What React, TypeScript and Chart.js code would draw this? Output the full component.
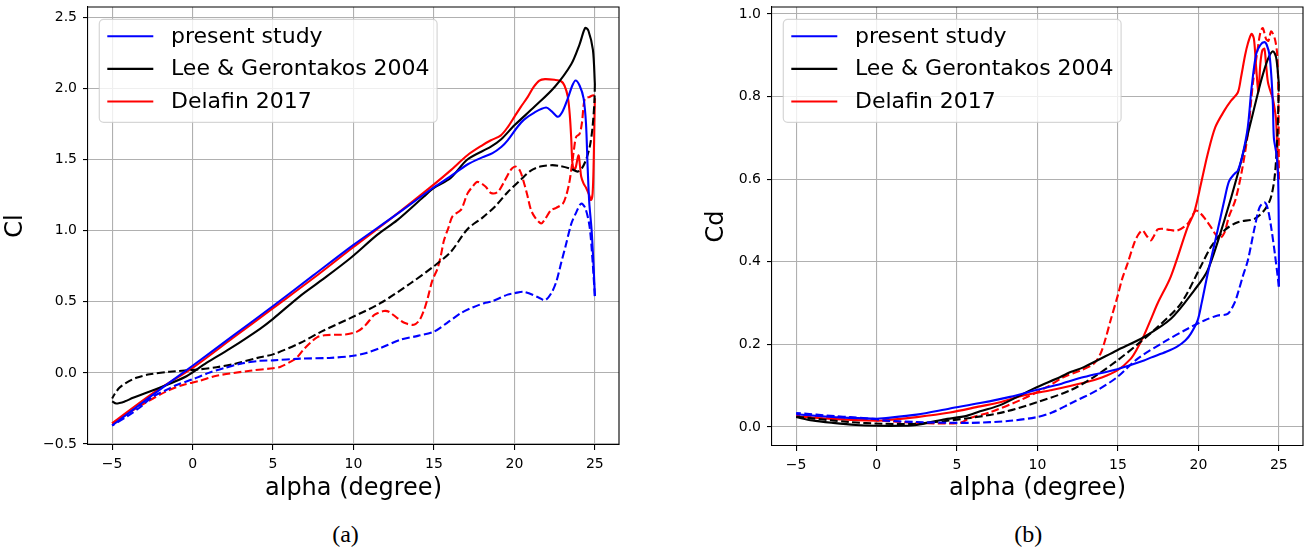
import React, { useEffect, useRef } from 'react';
import { Chart, registerables } from 'chart.js';

Chart.register(...registerables);

// ---------- tick values ----------
const alphaTicks = [-5, 0, 5, 10, 15, 20, 25];
const clTicks = [-0.5, 0, 0.5, 1.0, 1.5, 2.0, 2.5];
const cdTicks = [0, 0.2, 0.4, 0.6, 0.8, 1.0];

const seriesLabels = ['present study', 'Lee & Gerontakos 2004', 'Delafin 2017'];
const seriesColors = ['#0000ff', '#000000', '#ff0000'];

// ---------- Cl: [alpha, Cl] ----------
const presentClUp = [
  [-5, -0.37], [-2.5, -0.157], [0, 0.05], [2.5, 0.26], [5, 0.47], [7.5, 0.685], [10, 0.9],
  [12.5, 1.1], [15, 1.305], [16, 1.38], [17.08, 1.465], [18, 1.515], [18.64, 1.545], [19.2, 1.59],
  [19.58, 1.635], [20.2, 1.73], [20.6, 1.78], [21.24, 1.83], [21.97, 1.865], [22.3, 1.84],
  [22.7, 1.8], [23.0, 1.84], [23.32, 1.93], [23.6, 2.02], [23.8, 2.055], [24.05, 2.02],
  [24.3, 1.93], [24.45, 1.75], [24.55, 1.45], [24.65, 1.2], [24.8, 1.0], [24.92, 0.75], [25.0, 0.54],
];
const presentClDown = [
  [25.0, 0.54], [24.85, 0.8], [24.67, 1.03], [24.4, 1.16], [24.15, 1.19], [23.85, 1.13],
  [23.54, 1.05], [23.2, 0.9], [22.9, 0.77], [22.6, 0.64], [22.29, 0.56], [21.9, 0.51], [21.5, 0.53],
  [20.6, 0.57], [20.0, 0.56], [19.58, 0.55], [18.54, 0.5], [18.12, 0.49], [17.4, 0.46],
  [16.67, 0.42], [15.8, 0.35], [15.0, 0.29], [14.0, 0.26], [12.92, 0.233], [11.67, 0.175],
  [10.8, 0.14], [10.0, 0.12], [8.5, 0.105], [6.68, 0.1], [5.0, 0.088], [4.19, 0.085], [3.0, 0.065],
  [2.0, 0.035], [1.0, 0.0], [0.45, -0.025], [0, -0.045], [-1.0, -0.085], [-1.63, -0.12],
  [-2.5, -0.17], [-3.3, -0.245], [-4.0, -0.3], [-5, -0.37],
];
const leeClUp = [
  [-5, -0.2], [-4.75, -0.215], [-4.2, -0.2], [-3.7, -0.175], [-2.05, -0.105], [-0.38, -0.024],
  [0.86, 0.07], [2.32, 0.17], [4.19, 0.31], [5.0, 0.38], [6.68, 0.54], [8.0, 0.65], [9.8, 0.806],
  [11.47, 0.97], [12.72, 1.074], [14.38, 1.24], [15, 1.3], [16.04, 1.37], [17.08, 1.5],
  [18.54, 1.59], [19.16, 1.64], [20.0, 1.74], [21.24, 1.87], [22.5, 2.01], [23.53, 2.17],
  [24.05, 2.31], [24.4, 2.425], [24.6, 2.405], [24.88, 2.27], [25.0, 2.03],
];
const leeClDown = [
  [25.0, 2.03], [24.97, 1.9], [24.85, 1.72], [24.7, 1.6], [24.46, 1.5], [24.2, 1.44],
  [23.94, 1.415], [23.5, 1.435], [22.8, 1.455], [22.28, 1.46], [21.6, 1.45], [21.0, 1.42],
  [20.41, 1.36], [19.58, 1.27], [18.8, 1.17], [18.0, 1.09], [17.08, 1.01], [16.04, 0.85],
  [15.0, 0.75], [13.55, 0.63], [11.67, 0.49], [9.8, 0.385], [8.0, 0.29], [6.68, 0.21], [5.0, 0.13],
  [4.19, 0.11], [2.5, 0.06], [1.49, 0.04], [0.45, 0.025], [-1.43, 0.008], [-2.67, -0.01],
  [-3.5, -0.035], [-4.13, -0.07], [-4.55, -0.105], [-4.85, -0.15], [-5, -0.18],
];
const delafinClUp = [
  [-5, -0.355], [-2.5, -0.145], [0, 0.035], [2.5, 0.245], [5, 0.455], [7.5, 0.665], [10, 0.885],
  [12.5, 1.1], [15, 1.325], [16, 1.42], [17.08, 1.53], [18.0, 1.6], [18.54, 1.635], [19.16, 1.67],
  [19.6, 1.73], [20.0, 1.8], [20.4, 1.87], [20.83, 1.94], [21.2, 2.01], [21.55, 2.055],
  [21.9, 2.065], [22.49, 2.06], [22.9, 2.05], [23.11, 2.02], [23.32, 1.94], [23.45, 1.8],
  [23.53, 1.65], [23.6, 1.48], [23.7, 1.43], [23.8, 1.44], [23.98, 1.53], [24.08, 1.45],
  [24.15, 1.38], [24.3, 1.33], [24.46, 1.3], [24.65, 1.25], [24.76, 1.215], [24.86, 1.26],
  [24.93, 1.5], [24.97, 1.75], [25.0, 1.93],
];
const delafinClDown = [
  [25.0, 1.95], [24.85, 1.95], [24.67, 1.94], [24.4, 1.93], [24.3, 1.88], [24.2, 1.76],
  [24.05, 1.68], [23.84, 1.66], [23.7, 1.57], [23.6, 1.48], [23.53, 1.425], [23.4, 1.33],
  [23.2, 1.24], [23.01, 1.19], [22.6, 1.16], [22.28, 1.145], [21.9, 1.08], [21.66, 1.05],
  [21.3, 1.09], [21.03, 1.145], [20.8, 1.25], [20.61, 1.33], [20.35, 1.42], [20.1, 1.45],
  [19.88, 1.44], [19.68, 1.41], [19.3, 1.33], [18.95, 1.27], [18.54, 1.265], [18.2, 1.31],
  [17.7, 1.343], [17.4, 1.31], [17.08, 1.26], [16.85, 1.19], [16.67, 1.145], [16.15, 1.1],
  [15.9, 1.02], [15.62, 0.93], [15.42, 0.82], [15.21, 0.73], [14.9, 0.65], [14.6, 0.52],
  [14.38, 0.44], [14.1, 0.37], [13.75, 0.338], [13.2, 0.35], [12.72, 0.385], [12.2, 0.43],
  [11.88, 0.435], [11.5, 0.42], [11.26, 0.405], [10.7, 0.33], [10.22, 0.29], [9.5, 0.27],
  [8.97, 0.268], [8.2, 0.265], [7.73, 0.25], [7.3, 0.21], [6.89, 0.163], [6.5, 0.11],
  [6.27, 0.09], [5.44, 0.042], [5.0, 0.033], [3.57, 0.015], [1.49, -0.02], [0.45, -0.055],
  [-0.6, -0.085], [-1.63, -0.13], [-3.3, -0.234], [-5, -0.355],
];

// ---------- Cd: [alpha, Cd] ----------
const presentCdUp = [
  [-5, 0.031], [-3, 0.025], [-1.67, 0.022], [0, 0.02], [0.4, 0.021], [2.5, 0.03], [4.56, 0.045],
  [6.43, 0.058], [8.3, 0.073], [9.97, 0.09], [11.5, 0.105], [12.88, 0.121], [14.96, 0.14],
  [16.62, 0.161], [17.04, 0.168], [18.0, 0.182], [18.7, 0.195], [19.2, 0.21], [19.53, 0.226],
  [19.95, 0.258], [20.2, 0.3], [20.57, 0.37], [21.1, 0.46], [21.61, 0.549], [21.9, 0.595],
  [22.24, 0.613], [22.45, 0.621], [22.75, 0.66], [23.07, 0.726], [23.3, 0.82], [23.59, 0.903],
  [23.85, 0.925], [24.1, 0.932], [24.25, 0.925], [24.42, 0.9], [24.55, 0.84], [24.63, 0.78],
  [24.69, 0.7], [24.85, 0.66], [24.95, 0.61], [25.0, 0.45], [25.0, 0.34],
];
const presentCdDown = [
  [25.0, 0.34], [24.94, 0.36], [24.75, 0.42], [24.52, 0.484], [24.3, 0.53], [24.1, 0.544],
  [23.8, 0.532], [23.5, 0.484], [23.07, 0.403], [22.76, 0.365], [22.5, 0.33], [22.24, 0.3],
  [21.82, 0.274], [21.2, 0.27], [20.37, 0.258], [19.33, 0.238], [17.87, 0.206], [16.21, 0.165],
  [14.96, 0.121], [13.71, 0.089], [12.05, 0.057], [10.9, 0.035], [9.97, 0.024], [8.3, 0.015],
  [5.81, 0.01], [2.49, 0.012], [0.4, 0.016], [0, 0.019], [-1.67, 0.024], [-2.5, 0.026], [-5, 0.034],
];
const leeCdUp = [
  [-5, 0.024], [-4, 0.016], [-2.7, 0.01], [-1.3, 0.005], [0, 0.003], [1.65, 0.003], [2.49, 0.005],
  [4.15, 0.018], [5.6, 0.027], [6.43, 0.038], [7.68, 0.053], [9.76, 0.093], [11.42, 0.121],
  [12.05, 0.133], [12.88, 0.145], [14.96, 0.186], [16.62, 0.218], [18.29, 0.262], [19.74, 0.331],
  [20.57, 0.379], [21.61, 0.5], [22.45, 0.613], [23.28, 0.742], [23.9, 0.839], [24.32, 0.891],
  [24.63, 0.91], [24.83, 0.895], [25.0, 0.831],
];
const leeCdDown = [
  [25.0, 0.831], [24.97, 0.78], [24.9, 0.7], [24.75, 0.61], [24.5, 0.555], [24.1, 0.525],
  [23.48, 0.504], [22.45, 0.496], [21.61, 0.476], [20.78, 0.436], [20.16, 0.39], [18.91, 0.299],
  [17.46, 0.242], [16.21, 0.2], [14.96, 0.161], [13.5, 0.121], [12.05, 0.089], [9.97, 0.06],
  [7.89, 0.036], [5.81, 0.022], [2.49, 0.008], [0.4, 0.008], [-1.67, 0.012], [-5, 0.025],
];
const delafinCdUp = [
  [-5, 0.026], [-2.5, 0.019], [0, 0.015], [0.4, 0.016], [2.5, 0.024], [4.56, 0.035], [6.43, 0.05],
  [7.68, 0.06], [9.0, 0.075], [10.8, 0.089], [12.88, 0.107], [14.0, 0.12], [14.96, 0.137],
  [15.79, 0.165], [16.2, 0.19], [16.62, 0.222], [17.04, 0.26], [17.46, 0.299], [18.29, 0.365],
  [19.33, 0.484], [19.74, 0.52], [20.16, 0.589], [20.57, 0.66], [21.05, 0.726], [21.61, 0.766],
  [22.03, 0.79], [22.45, 0.81], [22.65, 0.847], [22.9, 0.9], [23.07, 0.928], [23.3, 0.952],
  [23.45, 0.94], [23.59, 0.87], [23.73, 0.812], [23.85, 0.88], [23.97, 0.912], [24.1, 0.916],
  [24.2, 0.88], [24.32, 0.835], [24.5, 0.81], [24.63, 0.795], [24.83, 0.742], [24.94, 0.61],
  [25.0, 0.6],
];
const delafinCdDown = [
  [25.0, 0.6], [24.98, 0.77], [24.9, 0.9], [24.75, 0.94], [24.52, 0.958], [24.35, 0.935],
  [24.2, 0.94], [24.0, 0.966], [23.85, 0.955], [23.7, 0.92], [23.59, 0.89], [23.38, 0.83],
  [23.07, 0.71], [22.7, 0.62], [22.3, 0.55], [21.9, 0.51], [21.61, 0.47], [21.3, 0.456],
  [21.0, 0.47], [20.78, 0.484], [20.4, 0.505], [20.16, 0.516], [19.85, 0.524], [19.6, 0.51],
  [19.33, 0.492], [18.7, 0.476], [18.08, 0.478], [17.7, 0.48], [17.46, 0.478], [17.2, 0.46],
  [17.04, 0.452], [16.8, 0.462], [16.52, 0.476], [16.25, 0.465], [16.0, 0.444], [15.59, 0.395],
  [15.27, 0.36], [15.0, 0.32], [14.54, 0.258], [14.2, 0.21], [13.92, 0.178], [13.5, 0.153],
  [12.67, 0.137], [11.63, 0.121], [10.6, 0.097], [8.93, 0.065], [7.06, 0.036], [5.81, 0.022],
  [5.19, 0.01], [2.49, 0.01], [0.4, 0.015], [-1.67, 0.022], [-5, 0.028],
];

const clSeries = [
  [presentClUp, presentClDown],
  [leeClUp, leeClDown],
  [delafinClUp, delafinClDown],
];
const cdSeries = [
  [presentCdUp, presentCdDown],
  [leeCdUp, leeCdDown],
  [delafinCdUp, delafinCdDown],
];

// ---------- helpers ----------
const FONT = 'DejaVu Sans';
const fmt = (v: number, d: number) => Number(v).toFixed(d).replace('-', '\u2212');

function buildDatasets(series: number[][][][]) {
  const out: any[] = [];
  series.forEach(([up, down], i) => {
    const common = {
      borderColor: seriesColors[i],
      backgroundColor: seriesColors[i],
      borderWidth: 2.1,
      pointRadius: 0,
      pointHoverRadius: 0,
      tension: 0.3,
      fill: false,
      borderJoinStyle: 'round',
    };
    out.push({ ...common, label: seriesLabels[i], data: up.map(([x, y]) => ({ x, y })) });
    out.push({
      ...common,
      label: seriesLabels[i] + ' (return)',
      isReturn: true,
      borderDash: [7.8, 3.4],
      data: down.map(([x, y]) => ({ x, y })),
    });
  });
  return out;
}

const framePlugin = {
  id: 'frameAndLegend',
  afterDatasetsDraw(chart: any) {
    const { ctx, chartArea } = chart;
    ctx.save();
    // top & right spines
    ctx.strokeStyle = '#000';
    ctx.lineWidth = 1.1;
    ctx.setLineDash([]);
    ctx.beginPath();
    ctx.moveTo(chartArea.left, chartArea.top);
    ctx.lineTo(chartArea.right, chartArea.top);
    ctx.lineTo(chartArea.right, chartArea.bottom);
    ctx.stroke();

    // legend box
    const fs = 22;
    ctx.font = `${fs}px "${FONT}"`;
    const items = chart.data.datasets.filter((d: any) => !d.isReturn);
    const tw = Math.max(...items.map((d: any) => ctx.measureText(d.label).width));
    const x0 = chartArea.left + 11.3;
    const y0 = chartArea.top + 12.3;
    const w = 8.8 + 44 + 17.6 + tw + 8.8;
    const h = 103;
    ctx.beginPath();
    if (ctx.roundRect) ctx.roundRect(x0, y0, w, h, 4.4);
    else ctx.rect(x0, y0, w, h);
    ctx.fillStyle = 'rgba(255,255,255,0.8)';
    ctx.fill();
    ctx.lineWidth = 1.2;
    ctx.strokeStyle = 'rgba(204,204,204,0.8)';
    ctx.stroke();
    items.forEach((d: any, i: number) => {
      const cy = y0 + 17 + i * 32.6;
      ctx.beginPath();
      ctx.moveTo(x0 + 8, cy);
      ctx.lineTo(x0 + 54, cy);
      ctx.strokeStyle = d.borderColor;
      ctx.lineWidth = 2.1;
      ctx.stroke();
      ctx.fillStyle = '#000';
      ctx.textBaseline = 'middle';
      ctx.textAlign = 'left';
      ctx.fillText(d.label, x0 + 71.7, cy + 0.5);
    });
    ctx.restore();
  },
};

interface PanelCfg {
  series: number[][][][];
  yTicks: number[];
  yMin: number;
  yMax: number;
  yTitle: string;
  yWidth: number;
  xHeight: number;
  padRight: number;
}

function makeChart(canvas: HTMLCanvasElement, cfg: PanelCfg) {
  const tickFont = { family: FONT, size: 14 };
  const titleFont = { family: FONT, size: 24 };
  const grid = {
    color: '#b0b0b0',
    lineWidth: 1.1,
    tickColor: '#000',
    tickLength: 5,
    tickWidth: 1.1,
  };
  return new Chart(canvas, {
    type: 'line',
    data: { datasets: buildDatasets(cfg.series) },
    plugins: [framePlugin],
    options: {
      responsive: false,
      animation: false,
      devicePixelRatio: 1,
      events: [],
      layout: { padding: { left: 0, top: 7, right: cfg.padRight, bottom: 0 } },
      plugins: { legend: { display: false }, tooltip: { enabled: false } },
      scales: {
        x: {
          type: 'linear',
          min: -6.5,
          max: 26.5,
          afterBuildTicks: (s: any) => {
            s.ticks = alphaTicks.map((v) => ({ value: v }));
          },
          afterFit: (s: any) => {
            s.height = cfg.xHeight;
            s.paddingLeft = 0;
            s.paddingRight = 0;
          },
          ticks: {
            callback: (v: any) => fmt(v, 0),
            font: tickFont,
            color: '#000',
            padding: 6,
            maxRotation: 0,
            autoSkip: false,
          },
          grid,
          border: { color: '#000', width: 1.1 },
          title: {
            display: true,
            text: 'alpha (degree)',
            font: titleFont,
            color: '#000',
            padding: { top: 0, bottom: 7 },
          },
        },
        y: {
          type: 'linear',
          min: cfg.yMin,
          max: cfg.yMax,
          afterBuildTicks: (s: any) => {
            s.ticks = cfg.yTicks.map((v) => ({ value: v }));
          },
          afterFit: (s: any) => {
            s.width = cfg.yWidth;
            s.paddingTop = 0;
            s.paddingBottom = 0;
          },
          ticks: {
            callback: (v: any) => fmt(v, 1),
            font: tickFont,
            color: '#000',
            padding: 6,
            autoSkip: false,
          },
          grid,
          border: { color: '#000', width: 1.1 },
          title: {
            display: true,
            text: cfg.yTitle,
            font: titleFont,
            color: '#000',
            padding: { top: 1.3, bottom: 0 },
          },
        },
      },
    } as any,
  });
}

export default function App() {
  const leftRef = useRef<HTMLCanvasElement>(null);
  const rightRef = useRef<HTMLCanvasElement>(null);

  useEffect(() => {
    const a = makeChart(leftRef.current!, {
      series: clSeries,
      yTicks: clTicks,
      yMin: -0.507,
      yMax: 2.572,
      yTitle: 'Cl',
      yWidth: 88,
      xHeight: 65,
      padRight: 21,
    });
    const b = makeChart(rightRef.current!, {
      series: cdSeries,
      yTicks: cdTicks,
      yMin: -0.046,
      yMax: 1.017,
      yTitle: 'Cd',
      yWidth: 71,
      xHeight: 64,
      padRight: 5,
    });
    return () => {
      a.destroy();
      b.destroy();
    };
  }, []);

  const caption: React.CSSProperties = {
    position: 'absolute',
    top: 522,
    width: 100,
    textAlign: 'center',
    fontFamily: '"Liberation Serif", "Times New Roman", serif',
    fontSize: 24,
    lineHeight: '24px',
    color: '#000',
  };

  return (
    <div
      style={{
        position: 'absolute',
        left: 0,
        top: 0,
        width: 1308,
        height: 554,
        background: '#fff',
        overflow: 'hidden',
      }}
    >
      <canvas
        ref={leftRef}
        width={640}
        height={510}
        style={{ position: 'absolute', left: 0, top: 0, width: 640, height: 510 }}
      />
      <canvas
        ref={rightRef}
        width={607}
        height={510}
        style={{ position: 'absolute', left: 701, top: 0, width: 607, height: 510 }}
      />
      <div style={{ ...caption, left: 345.5 - 50 }}>(a)</div>
      <div style={{ ...caption, left: 1028.3 - 50 }}>(b)</div>
    </div>
  );
}
